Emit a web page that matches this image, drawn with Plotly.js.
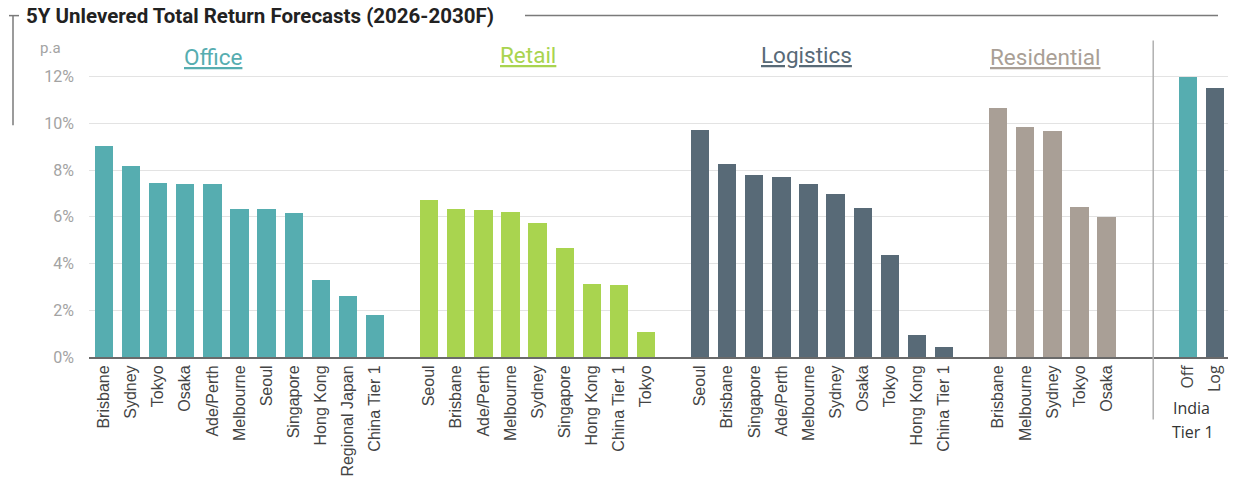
<!DOCTYPE html>
<html>
<head>
<meta charset="utf-8">
<script src="https://cdn.plot.ly/plotly-3.0.1.min.js"></script>
<style>html,body{margin:0;padding:0;background:#fff}#chart{width:1233px;height:477px}</style>
</head>
<body>
<div id="chart"></div>
<script>
// ---- Data ----
const officeCities = ["Brisbane","Sydney","Tokyo","Osaka","Ade/Perth","Melbourne","Seoul","Singapore","Hong Kong","Regional Japan","China Tier 1"];
const officeValues = [9.03, 8.18, 7.47, 7.41, 7.41, 6.33, 6.33, 6.16, 3.29, 2.63, 1.79];

const retailCities = ["Seoul","Brisbane","Ade/Perth","Melbourne","Sydney","Singapore","Hong Kong","China Tier 1","Tokyo"];
const retailValues = [6.72, 6.32, 6.29, 6.20, 5.72, 4.68, 3.14, 3.10, 1.05];

const logisticsCities = ["Seoul","Brisbane","Singapore","Ade/Perth","Melbourne","Sydney","Osaka","Tokyo","Hong Kong","China Tier 1"];
const logisticsValues = [9.71, 8.25, 7.81, 7.70, 7.39, 6.99, 6.39, 4.38, 0.95, 0.43];

const residentialCities = ["Brisbane","Melbourne","Sydney","Tokyo","Osaka"];
const residentialValues = [10.66, 9.83, 9.66, 6.43, 5.99];

const indiaSectors = ["Off","Log"];
const indiaValues = [12.0, 11.51];

const groupNames = ["Office","Retail","Logistics","Residential"];
const yTickVals = [0,2,4,6,8,10,12];
const yTickText = ["0%","2%","4%","6%","8%","10%","12%"];

// ---- Styling ----
const C_OFFICE = "#56adb0", C_RETAIL = "#a9d44f", C_LOG = "#586a77", C_RES = "#a99f96";
const W = 1233, H = 477;
const M = {l: 89, r: 5, t: 57.5, b: 119.7};
const plotW = W - M.l - M.r, plotH = H - M.t - M.b;
const px = x => (x - M.l) / plotW;          // pixel -> paper x
const py = y => (H - M.b - y) / plotH;       // pixel -> paper y

const groups = [
  {cats: officeCities, vals: officeValues, color: C_OFFICE, gapAfter: 1},
  {cats: retailCities, vals: retailValues, color: C_RETAIL, gapAfter: 1},
  {cats: logisticsCities, vals: logisticsValues, color: C_LOG, gapAfter: 1},
  {cats: residentialCities, vals: residentialValues, color: C_RES, gapAfter: 2},
];
const traces = [];
const tickvals = [], ticktext = [];
let pos = 0;
groups.forEach((g, gi) => {
  const xs = g.cats.map((c, i) => pos + i);
  xs.forEach((x, i) => { tickvals.push(x); ticktext.push(g.cats[i]); });
  traces.push({type: "bar", x: xs, y: g.vals, name: groupNames[gi], marker: {color: g.color}, width: 0.675, hoverinfo: "x+y"});
  pos += g.cats.length + g.gapAfter;
});
const indiaX = indiaSectors.map((s, i) => pos + i);
indiaX.forEach((x, i) => { tickvals.push(x); ticktext.push('<span style="font-family:\'Open Sans\';font-size:16px">' + indiaSectors[i] + '</span>'); });
traces.push({type: "bar", x: indiaX, y: indiaValues, name: "India Tier 1", marker: {color: [C_OFFICE, C_LOG]}, width: 0.675});
const dividerX = pos - 1.28;

const gray = "#a3a3a3";
const grpFont = c => ({family: "Roboto", size: 22.5, color: c});
const layout = {
  width: W, height: H,
  margin: M,
  showlegend: false,
  paper_bgcolor: "#fff", plot_bgcolor: "#fff",
  bargap: 0,
  xaxis: {
    range: [-0.553, pos + 1 + 0.48],
    tickvals: tickvals, ticktext: ticktext,
    tickangle: -90, ticks: "", showgrid: false, zeroline: false,
    showline: true, linecolor: "#6a6a6a", linewidth: 2,
    tickfont: {family: "Liberation Sans, Arial", size: 16, color: "#444"},
  },
  yaxis: {
    range: [0, 12.8],
    tickvals: yTickVals, ticktext: yTickText,
    showgrid: true, gridcolor: "#e3e3e3", gridwidth: 1,
    zeroline: false, showline: false, ticks: "",
    tickfont: {family: "Roboto", size: 16, color: gray},
    ticklabelstandoff: 14,
  },
  shapes: [
    {type: "line", xref: "x", yref: "paper", x0: dividerX, x1: dividerX, y0: py(40), y1: py(420), line: {color: "#b0b0b0", width: 1.5}},
    {type: "line", xref: "paper", yref: "paper", x0: px(9), x1: px(19), y0: py(15), y1: py(15), line: {color: "#7a7a7a", width: 1.5}},
    {type: "line", xref: "paper", yref: "paper", x0: px(13), x1: px(13), y0: py(15), y1: py(125), line: {color: "#7a7a7a", width: 1.5}},
    {type: "line", xref: "paper", yref: "paper", x0: px(525), x1: px(1218), y0: py(15), y1: py(15), line: {color: "#7a7a7a", width: 1.5}},
  ],
  annotations: [
    {xref: "paper", yref: "paper", x: px(24), y: py(15), xanchor: "left", yanchor: "middle", showarrow: false,
     text: "<b>5Y Unlevered Total Return Forecasts (2026-2030F)</b>", font: {family: "Roboto", size: 20.5, color: "#222"}},
    {xref: "paper", yref: "paper", x: px(50), y: py(47), xanchor: "center", yanchor: "middle", showarrow: false,
     text: "p.a", font: {family: "Roboto", size: 15, color: gray}},
    {xref: "paper", yref: "paper", x: px(213), y: py(56), xanchor: "center", yanchor: "middle", showarrow: false,
     text: '<span style="text-decoration:underline">' + groupNames[0] + '</span>', font: grpFont(C_OFFICE)},
    {xref: "paper", yref: "paper", x: px(528), y: py(54), xanchor: "center", yanchor: "middle", showarrow: false,
     text: '<span style="text-decoration:underline">' + groupNames[1] + '</span>', font: grpFont(C_RETAIL)},
    {xref: "paper", yref: "paper", x: px(806), y: py(54), xanchor: "center", yanchor: "middle", showarrow: false,
     text: '<span style="text-decoration:underline">' + groupNames[2] + '</span>', font: grpFont(C_LOG)},
    {xref: "paper", yref: "paper", x: px(1045), y: py(56), xanchor: "center", yanchor: "middle", showarrow: false,
     text: '<span style="text-decoration:underline">' + groupNames[3] + '</span>', font: grpFont(C_RES)},
    {xref: "paper", yref: "paper", x: px(1191), y: py(408), xanchor: "center", yanchor: "middle", showarrow: false,
     text: "India", font: {family: "Open Sans", size: 16, color: "#333"}},
    {xref: "paper", yref: "paper", x: px(1193), y: py(433), xanchor: "center", yanchor: "middle", showarrow: false,
     text: "Tier 1", font: {family: "Open Sans", size: 16, color: "#333"}},
  ],
};
Plotly.newPlot("chart", traces, layout, {displayModeBar: false, staticPlot: true});
</script>
</body>
</html>
